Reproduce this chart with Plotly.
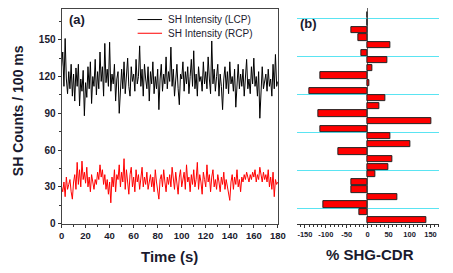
import plotly.graph_objects as go

# ---- data: panel (a) time series (t = 0..180 s, 1 s steps) ----
time_s = list(range(0, 181))
lcp = [128, 140, 112, 151, 118, 106, 124, 110, 130, 104,
       122, 100, 127, 112, 130, 96, 118, 108, 125, 88,
       115, 103, 128, 110, 132, 98, 120, 112, 134, 105,
       124, 110, 140, 116, 128, 104, 147, 115, 126, 112,
       148, 108, 122, 114, 130, 100, 118, 124, 90, 112,
       126, 110, 132, 106, 120, 135, 112, 104, 128, 116,
       122, 108, 134, 114, 120, 145, 112, 126, 104, 130,
       118, 110, 128, 100, 124, 114, 132, 106, 120, 110,
       126, 93, 118, 130, 108, 122, 114, 136, 110, 124,
       116, 144, 112, 126, 104, 120, 130, 110, 97, 122,
       118, 132, 108, 124, 114, 128, 106, 120, 134, 112,
       141, 110, 122, 104, 128, 116, 120, 108, 132, 114,
       124, 110, 136, 118, 106, 149, 114, 126, 108, 120,
       130, 104, 122, 112, 93, 118, 128, 110, 124, 106,
       132, 114, 120, 108, 126, 95, 118, 130, 110, 122,
       112, 126, 104, 120, 134, 110, 118, 106, 128, 114,
       135, 112, 120, 104, 124, 86, 116, 128, 110, 118,
       122, 108, 126, 112, 118, 104, 130, 110, 138, 112,
       116]
rcp = [30, 26, 34, 22, 38, 28, 32, 36, 26, 20,
       34, 40, 28, 50, 32, 44, 30, 51, 36, 42,
       33, 46, 30, 38, 26, 40, 34, 28, 36, 32,
       42, 36, 48, 38, 44, 32, 40, 28, 36, 24,
       34, 17, 38, 30, 44, 26, 40, 36, 48, 30,
       42, 34, 53, 28, 44, 36, 24, 40, 46, 30,
       38, 26, 44, 34, 40, 28, 36, 46, 30, 38,
       32, 42, 28, 36, 40, 30, 38, 26, 44, 34,
       28, 20, 36, 40, 30, 44, 34, 26, 38, 32,
       40, 30, 46, 36, 28, 42, 34, 24, 38, 44,
       30, 36, 42, 28, 48, 34, 38, 26, 40, 32,
       44, 30, 36, 50, 28, 40, 34, 24, 42, 36,
       30, 48, 34, 40, 26, 38, 44, 30, 36, 28,
       40, 34, 26, 38, 32, 42, 28, 36, 30, 24,
       19, 34, 40, 28, 38, 32, 44, 30, 36, 26,
       38, 34, 40, 36, 42, 38, 34, 40, 36, 42,
       38, 44, 34, 40, 36, 46, 38, 34, 42, 36,
       40, 34, 44, 30, 38, 28, 42, 22, 36, 32,
       34]
series_names = ["SH Intensity (LCP)", "SH Intensity (RCP)"]

# ---- data: panel (b) % SHG-CDR per segment (bottom to top) ----
segment = [i + 0.5 for i in range(28)]
cdr = [141, -21, -105, 72, -38, -38, 19, 49, 59, -69,
       102, 54, -113, 152, -119, 29, 42, -140, 3, -113,
       10, 48, -14, 54, -23, -38, 0, -1]

x_ticks_a = [0, 20, 40, 60, 80, 100, 120, 140, 160, 180]
y_ticks_a = [0, 30, 60, 90, 120, 150]
x_ticks_b = [-150, -100, -50, 0, 50, 100, 150]
x_labels_b = ["-150", "-100", "-50", "0", "50", "100", "150"]
grid_b = [2, 7, 12, 17, 22, 27]

W, H = 453, 273
FONT = "Liberation Sans, Arial, sans-serif"
TXT = "#1a1a2e"
COLORS = ["black", "#ff0000"]

fig = go.Figure()
for name, vals, col in zip(series_names, [lcp, rcp], COLORS):
    fig.add_trace(go.Scatter(x=time_s, y=vals, mode="lines", name=name,
                             line=dict(color=col, width=1), xaxis="x", yaxis="y",
                             showlegend=False))
fig.add_trace(go.Bar(x=cdr, y=segment, orientation="h", width=0.82, showlegend=False,
                     marker=dict(color="#ff0000", line=dict(color="#222", width=1)),
                     xaxis="x2", yaxis="y2"))


def px(x):
    return x / W


def py(y):
    return 1 - y / H


tickfont_y = dict(family=FONT, size=10, color=TXT, weight="bold")
tickfont_x = dict(family=FONT, size=9.5, color=TXT, weight="bold")
tickfont_b = dict(family=FONT, size=7.5, color=TXT, weight="bold")

fig.update_layout(
    width=W, height=H, margin=dict(l=0, r=0, t=0, b=0),
    paper_bgcolor="white", plot_bgcolor="white",
    showlegend=False,
    xaxis=dict(domain=[px(60), px(281.7)], range=[0, 180], tickvals=x_ticks_a,
               ticks="outside", ticklen=3, tickcolor="#333", showline=True, linecolor="#444",
               linewidth=1, mirror=True, showgrid=False, zeroline=False, tickfont=tickfont_x,
               minor=dict(dtick=10, ticks="outside", ticklen=2, tickcolor="#333"),
               anchor="y", tickangle=0),
    yaxis=dict(domain=[py(228.7), py(9.3)], range=[0, 175], tickvals=y_ticks_a,
               ticks="outside", ticklen=3, tickcolor="#333", showline=True, linecolor="#444",
               linewidth=1, mirror=True, showgrid=False, zeroline=False, tickfont=tickfont_y,
               minor=dict(dtick=15, ticks="outside", ticklen=2, tickcolor="#333"),
               anchor="x"),
    xaxis2=dict(domain=[px(301.7), px(446.7)], range=[-168, 170], tickvals=x_ticks_b,
                ticktext=x_labels_b,
                ticks="outside", ticklen=3, tickcolor="#333", showline=True, linecolor="#333",
                linewidth=1, showgrid=False, zeroline=True, zerolinecolor="#666",
                zerolinewidth=1, tickfont=tickfont_b, tickangle=0,
                minor=dict(dtick=10, ticks="outside", ticklen=2, tickcolor="#333"),
                anchor="y2"),
    yaxis2=dict(domain=[py(228.7), py(8.3)], range=[0, 28.4], tickvals=grid_b,
                showticklabels=False, ticks="", showgrid=True, gridcolor="#5ae4f2",
                gridwidth=1, showline=False, zeroline=False, anchor="x2"),
    bargap=0,
)

# manual legend (line samples + labels)
for i, (name, col) in enumerate(zip(series_names, COLORS)):
    yy = 20 + 14 * i
    fig.add_shape(type="line", xref="paper", yref="paper", x0=px(138), x1=px(163),
                  y0=py(yy), y1=py(yy), line=dict(color=col, width=1))
    fig.add_annotation(x=px(167), y=py(yy), xref="paper", yref="paper", text=name,
                       xanchor="left", yanchor="middle", showarrow=False,
                       font=dict(family=FONT, size=10, color=TXT))

ann_font = dict(family=FONT, color=TXT, weight="bold")


def label(x, y, text, size, angle=0):
    fig.add_annotation(x=px(x), y=py(y), xref="paper", yref="paper", text=text,
                       textangle=angle, showarrow=False, xanchor="center",
                       yanchor="middle", font=dict(size=size, **ann_font))


label(15, 113, "SH Counts / 100 ms", 14, -90)
label(171, 262, "Time (s)", 15)
label(376, 260, "% SHG-CDR", 15)
label(76, 20, "(a)", 13)
label(313, 24, "(b)", 13)

fig.write_html("out.html", config={"displayModeBar": False},
               post_script="document.body.style.margin='0';document.body.style.padding='0';")
